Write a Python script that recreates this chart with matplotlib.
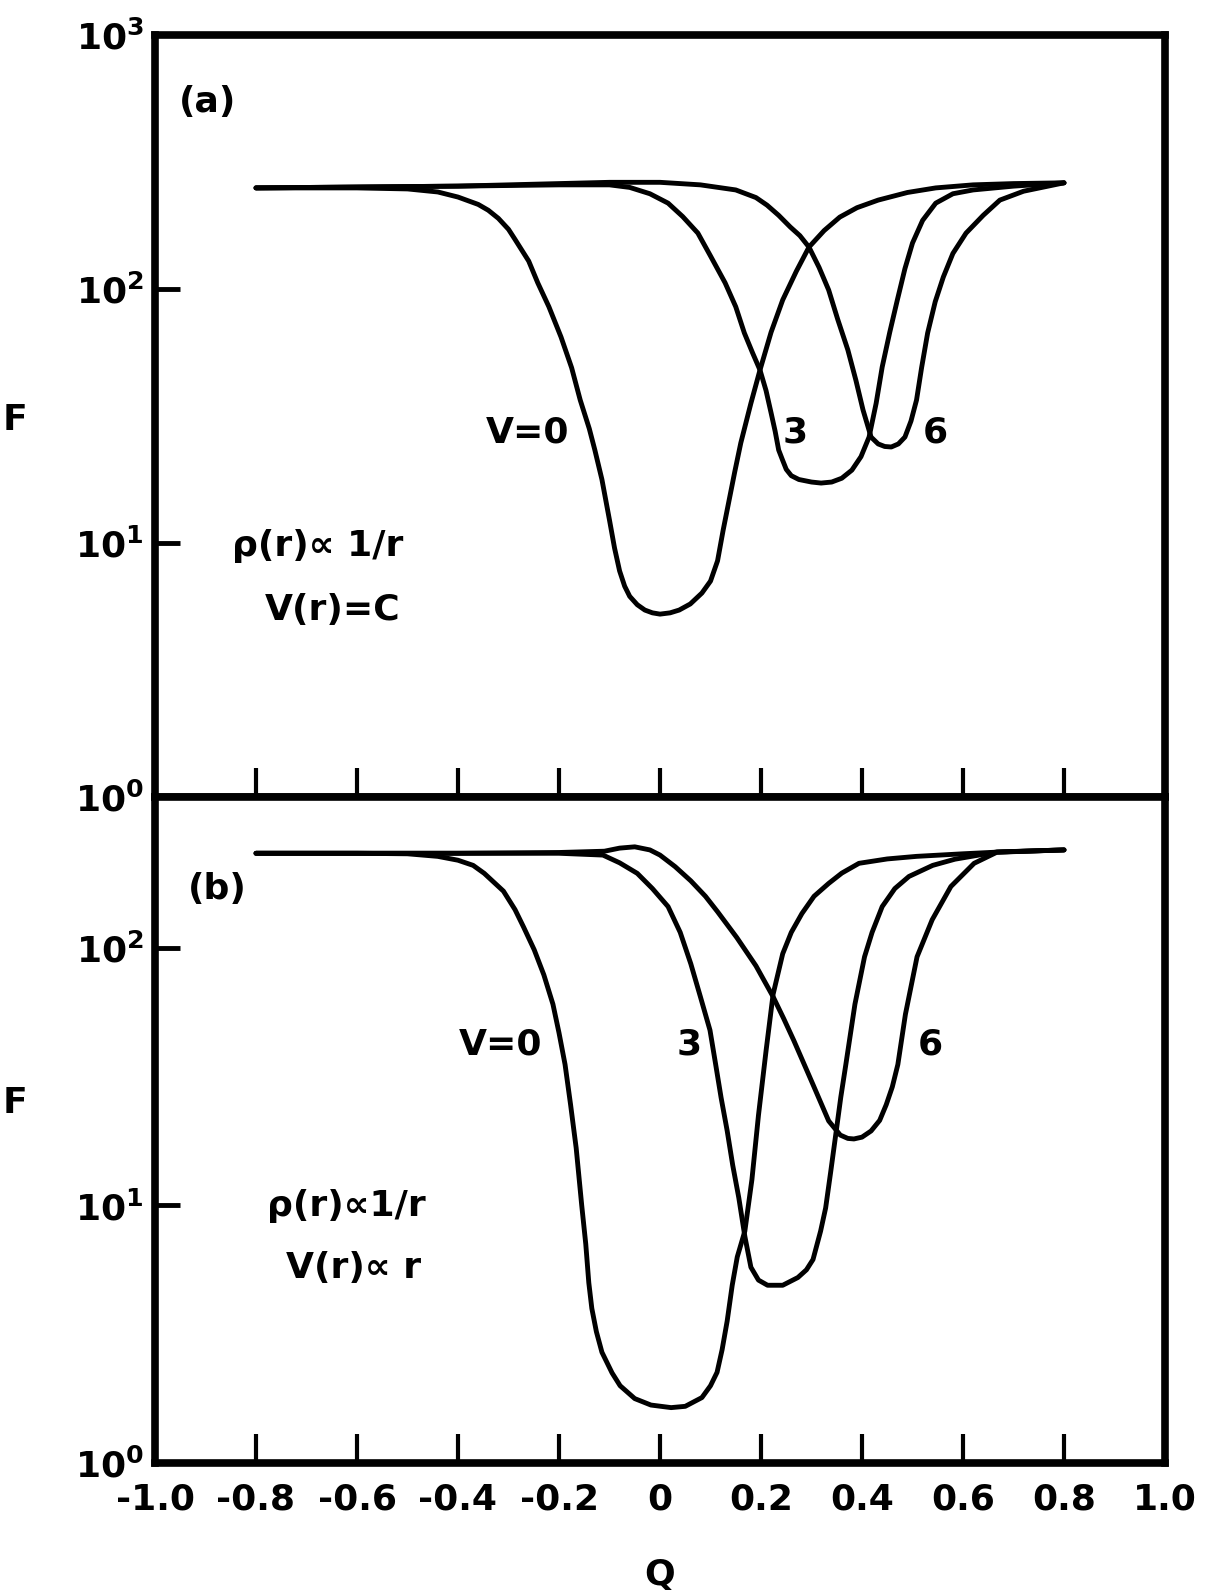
import numpy as np
import matplotlib.pyplot as plt
from matplotlib.ticker import FixedLocator, NullLocator

plt.rcParams['font.family'] = ['DejaVu Sans']
plt.rcParams['font.weight'] = 'bold'
plt.rcParams['axes.unicode_minus'] = False

# ---- panel (a): rho(r) ~ 1/r, V(r) = C  (values are log10 F) ----
a_q0 = [-0.8, -0.6, -0.5, -0.44, -0.40, -0.36, -0.34, -0.32, -0.30, -0.287, -0.26, -0.242,
        -0.22, -0.196, -0.175, -0.158, -0.14, -0.129, -0.115, -0.10, -0.09, -0.08, -0.07,
        -0.06, -0.045, -0.03, -0.015, 0.0, 0.02, 0.038, 0.06, 0.083, 0.1, 0.114, 0.125,
        0.137, 0.148, 0.16, 0.18, 0.198, 0.22, 0.243, 0.27, 0.295, 0.325, 0.356, 0.39, 0.432,
        0.49, 0.546, 0.62, 0.7, 0.8]
a_f0 = [2.398, 2.398, 2.394, 2.382, 2.362, 2.333, 2.31, 2.278, 2.235, 2.195, 2.11, 2.024,
        1.93, 1.811, 1.69, 1.563, 1.45, 1.366, 1.25, 1.09, 0.98, 0.89, 0.83,
        0.79, 0.757, 0.736, 0.725, 0.72, 0.725, 0.736, 0.76, 0.803, 0.85, 0.93, 1.05,
        1.17, 1.28, 1.394, 1.55, 1.681, 1.83, 1.957, 2.07, 2.165, 2.23, 2.283, 2.32, 2.35,
        2.38, 2.398, 2.41, 2.415, 2.418]

a_q3 = [-0.8, -0.4, -0.2, -0.1, -0.06, -0.02, 0.016, 0.045, 0.075, 0.1, 0.129, 0.15, 0.167,
        0.183, 0.198, 0.21, 0.22, 0.228, 0.235, 0.242, 0.25, 0.26, 0.275, 0.3, 0.319, 0.34,
        0.36, 0.38, 0.398, 0.414, 0.428, 0.44, 0.455, 0.47, 0.485, 0.50, 0.52, 0.546, 0.58,
        0.62, 0.7, 0.8]
a_f3 = [2.398, 2.405, 2.41, 2.41, 2.40, 2.375, 2.338, 2.285, 2.22, 2.13, 2.024, 1.93, 1.827,
        1.75, 1.681, 1.6, 1.512, 1.44, 1.366, 1.33, 1.29, 1.265, 1.25, 1.24, 1.236, 1.24,
        1.255, 1.287, 1.34, 1.417, 1.55, 1.693, 1.83, 1.957, 2.08, 2.181, 2.27, 2.338, 2.375,
        2.39, 2.405, 2.418]

a_q6 = [-0.8, -0.4, -0.2, -0.1, 0.0, 0.08, 0.15, 0.19, 0.212, 0.235, 0.258, 0.277, 0.295,
        0.315, 0.334, 0.352, 0.372, 0.388, 0.402, 0.418, 0.432, 0.445, 0.458, 0.472, 0.485,
        0.497, 0.508, 0.518, 0.53, 0.545, 0.561, 0.58, 0.606, 0.64, 0.673, 0.72, 0.8]
a_f6 = [2.398, 2.405, 2.415, 2.42, 2.42, 2.41, 2.39, 2.36, 2.33, 2.29, 2.244, 2.21, 2.165,
        2.085, 1.996, 1.88, 1.76, 1.64, 1.524, 1.417, 1.39, 1.38, 1.378, 1.39, 1.417,
        1.48, 1.563, 1.69, 1.827, 1.95, 2.047, 2.14, 2.22, 2.29, 2.35, 2.385, 2.418]

# ---- panel (b): rho(r) ~ 1/r, V(r) ~ r ----
b_q0 = [-0.8, -0.6, -0.5, -0.44, -0.40, -0.37, -0.348, -0.31, -0.287, -0.27, -0.249, -0.23,
        -0.212, -0.2, -0.188, -0.177, -0.166, -0.155, -0.147, -0.141, -0.135, -0.126, -0.115,
        -0.095, -0.079, -0.05, -0.018, 0.022, 0.05, 0.083, 0.1, 0.113, 0.123, 0.133, 0.143,
        0.153, 0.168, 0.182, 0.195, 0.21, 0.224, 0.243, 0.26, 0.281, 0.305, 0.334, 0.36,
        0.394, 0.45, 0.508, 0.6, 0.673, 0.8]
b_f0 = [2.367, 2.367, 2.365, 2.355, 2.34, 2.32, 2.289, 2.22, 2.148, 2.08, 1.992, 1.895,
        1.781, 1.67, 1.547, 1.39, 1.223, 1.0, 0.85, 0.7, 0.6, 0.51, 0.43,
        0.35, 0.30, 0.25, 0.225, 0.215, 0.22, 0.254, 0.3, 0.352, 0.44, 0.551, 0.69,
        0.8, 0.9, 1.1, 1.35, 1.6, 1.82, 1.977, 2.06, 2.133, 2.2, 2.25, 2.29,
        2.328, 2.345, 2.355, 2.365, 2.372, 2.38]

b_q3 = [-0.8, -0.4, -0.2, -0.113, -0.08, -0.045, -0.015, 0.016, 0.04, 0.061, 0.08, 0.099,
        0.11, 0.121, 0.133, 0.144, 0.156, 0.168, 0.18, 0.195, 0.213, 0.243, 0.273, 0.29,
        0.303, 0.318, 0.328, 0.338, 0.349, 0.358, 0.368, 0.386, 0.405, 0.42, 0.44, 0.465,
        0.493, 0.54, 0.584, 0.667, 0.8]
b_f3 = [2.367, 2.367, 2.367, 2.36, 2.33, 2.289, 2.23, 2.16, 2.06, 1.938, 1.81, 1.68,
        1.55, 1.418, 1.29, 1.156, 1.03, 0.88, 0.76, 0.71, 0.69, 0.69, 0.72, 0.75,
        0.79, 0.9, 0.99, 1.13, 1.289, 1.42, 1.547, 1.781, 1.965, 2.06, 2.16, 2.23,
        2.277, 2.32, 2.344, 2.372, 2.38]

b_q6 = [-0.8, -0.4, -0.2, -0.11, -0.08, -0.05, -0.02, 0.0, 0.03, 0.061, 0.09, 0.114, 0.152,
        0.19, 0.224, 0.245, 0.265, 0.303, 0.334, 0.357, 0.372, 0.384, 0.4, 0.418, 0.435,
        0.448, 0.46, 0.471, 0.486, 0.509, 0.539, 0.576, 0.622, 0.667, 0.8]
b_f6 = [2.367, 2.367, 2.37, 2.375, 2.387, 2.392, 2.38, 2.36, 2.315, 2.26, 2.2, 2.14, 2.04,
        1.93, 1.81, 1.725, 1.64, 1.469, 1.328, 1.273, 1.26, 1.258, 1.265, 1.289, 1.33,
        1.391, 1.46, 1.547, 1.742, 1.965, 2.109, 2.238, 2.328, 2.371, 2.38]

xticks_top = [-0.8, -0.6, -0.4, -0.2, 0.0, 0.2, 0.4, 0.6, 0.8]
xticks_bot = [-1.0, -0.8, -0.6, -0.4, -0.2, 0.0, 0.2, 0.4, 0.6, 0.8, 1.0]
xlabels_bot = ['-1.0', '-0.8', '-0.6', '-0.4', '-0.2', '0', '0.2', '0.4', '0.6', '0.8', '1.0']

FS = 26
LW = 3.5

W, H = 1210, 1594
fig = plt.figure(figsize=(W / 100, H / 100), dpi=100)
ax_a = fig.add_axes([155 / W, 1 - 797 / H, 1010 / W, 762 / H])
ax_b = fig.add_axes([155 / W, 1 - 1463 / H, 1010 / W, 666 / H])


def style(ax, ymax, yticks):
    ax.set_yscale('log')
    ax.set_xlim(-1.0, 1.0)
    ax.set_ylim(1, ymax)
    for sp in ax.spines.values():
        sp.set_linewidth(5.5)
    ax.yaxis.set_major_locator(FixedLocator(yticks))
    ax.yaxis.set_minor_locator(NullLocator())
    ax.set_yticklabels([r'$\mathbf{10^{%d}}$' % int(round(np.log10(t))) for t in yticks],
                       fontsize=FS)
    ax.tick_params(axis='y', direction='in', length=18, width=3.5, pad=8)
    ax.tick_params(axis='x', direction='in', length=21, width=3, pad=14, labelsize=FS)


def curve(ax, q, logf):
    ax.plot(q, 10 ** np.array(logf), color='black', lw=LW,
            solid_capstyle='round', solid_joinstyle='round')


def label(ax, x, logy, s):
    ax.text(x, 10 ** logy, s, fontsize=FS, fontweight='bold', ha='center', va='center')


style(ax_a, 1000, [1, 10, 100, 1000])
ax_a.set_xticks(xticks_top)
ax_a.tick_params(axis='x', labelbottom=False)
curve(ax_a, a_q0, a_f0)
curve(ax_a, a_q3, a_f3)
curve(ax_a, a_q6, a_f6)

label(ax_a, -0.895, 2.736, '(a)')
label(ax_a, -0.263, 1.437, 'V=0')
label(ax_a, 0.267, 1.437, '3')
label(ax_a, 0.545, 1.437, '6')
label(ax_a, -0.677, 0.988, 'ρ(r)∝ 1/r')
label(ax_a, -0.648, 0.736, 'V(r)=C')
ax_a.set_ylabel('F', rotation=0, fontsize=FS, fontweight='bold', va='center', ha='center')
ax_a.yaxis.set_label_coords(-0.139, 0.495)

style(ax_b, 385, [1, 10, 100])
ax_b.set_xticks(xticks_bot)
ax_b.set_xticklabels(xlabels_bot, fontweight='bold')
curve(ax_b, b_q0, b_f0)
curve(ax_b, b_q3, b_f3)
curve(ax_b, b_q6, b_f6)

label(ax_b, -0.877, 2.23, '(b)')
label(ax_b, -0.315, 1.625, 'V=0')
label(ax_b, 0.057, 1.625, '3')
label(ax_b, 0.535, 1.625, '6')
label(ax_b, -0.622, 0.996, 'ρ(r)∝1/r')
label(ax_b, -0.606, 0.758, 'V(r)∝ r')
ax_b.set_ylabel('F', rotation=0, fontsize=FS, fontweight='bold', va='center', ha='center')
ax_b.yaxis.set_label_coords(-0.139, 0.54)
ax_b.set_xlabel('Q', fontsize=FS, fontweight='bold', labelpad=30)

fig.savefig('out.png', dpi=100)
